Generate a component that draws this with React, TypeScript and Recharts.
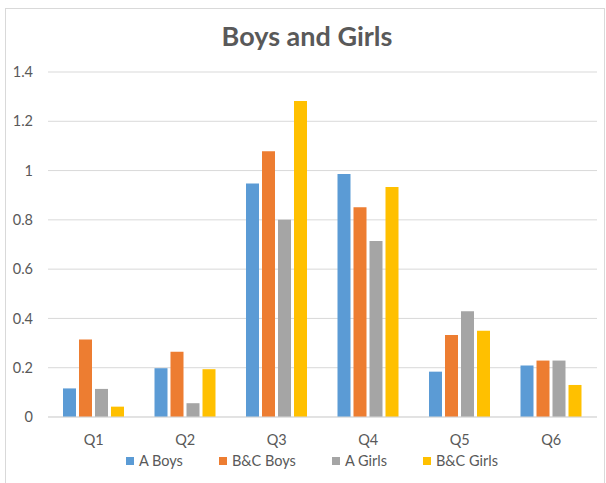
import { Bar, BarChart, CartesianGrid, Legend, XAxis, YAxis } from "recharts"

const categories = ["Q1", "Q2", "Q3", "Q4", "Q5", "Q6"]
const aBoys = [0.116, 0.198, 0.948, 0.986, 0.184, 0.209]
const bcBoys = [0.315, 0.265, 1.078, 0.851, 0.333, 0.229]
const aGirls = [0.114, 0.056, 0.8, 0.714, 0.429, 0.229]
const bcGirls = [0.042, 0.194, 1.282, 0.933, 0.35, 0.13]
const yTicks = [0, 0.2, 0.4, 0.6, 0.8, 1, 1.2, 1.4]

const series = [
    { key: "aBoys", name: "A Boys", color: "#5B9BD5" },
    { key: "bcBoys", name: "B&C Boys", color: "#ED7D31" },
    { key: "aGirls", name: "A Girls", color: "#A5A5A5" },
    { key: "bcGirls", name: "B&C Girls", color: "#FFC000" },
]

const data = categories.map((name, i) => ({
    name,
    aBoys: aBoys[i],
    bcBoys: bcBoys[i],
    aGirls: aGirls[i],
    bcGirls: bcGirls[i],
}))

const font = "Lato, 'Open Sans', sans-serif"
const textColor = "#595959"

function ChartLegend() {
    return (
        <div style={{ display: "flex", justifyContent: "center", gap: 36, fontFamily: font, fontSize: 14.5, color: textColor, paddingLeft: 27 }}>
            {series.map((s) => (
                <div key={s.key} style={{ display: "flex", alignItems: "center", gap: 5 }}>
                    <span style={{ width: 8, height: 8, background: s.color, display: "inline-block" }} />
                    <span>{s.name}</span>
                </div>
            ))}
        </div>
    )
}

export default function App() {
    return (
        <div style={{ position: "absolute", left: 0, top: 0, width: 606, height: 483, background: "#fff", overflow: "hidden" }}>
            <div style={{ position: "absolute", left: 5, top: 8, width: 598, height: 490, border: "1px solid #D9D9D9" }} />
            <div
                style={{
                    position: "absolute",
                    top: 19,
                    left: 0,
                    width: 614,
                    textAlign: "center",
                    fontFamily: font,
                    fontWeight: 700,
                    fontSize: 27,
                    color: textColor,
                }}
            >
                Boys and Girls
            </div>
            <BarChart
                width={606}
                height={483}
                data={data}
                margin={{ top: 72, right: 9, left: 0, bottom: 14 }}
                barCategoryGap={15}
                barGap={3}
            >
                <CartesianGrid vertical={false} stroke="#D9D9D9" />
                <XAxis
                    dataKey="name"
                    axisLine={{ stroke: "#D9D9D9" }}
                    tickLine={false}
                    tick={{ fill: textColor, fontSize: 14.5, fontFamily: font }}
                    tickMargin={12}
                    height={35}
                />
                <YAxis
                    domain={[0, 1.4]}
                    ticks={yTicks}
                    axisLine={false}
                    tickLine={false}
                    tickSize={0}
                    tickMargin={15}
                    width={48}
                    tick={{ fill: textColor, fontSize: 14.5, fontFamily: font }}
                />
                <Legend verticalAlign="bottom" content={() => <ChartLegend />} />
                {series.map((s) => (
                    <Bar key={s.key} dataKey={s.key} name={s.name} fill={s.color} isAnimationActive={false} />
                ))}
            </BarChart>
        </div>
    )
}
